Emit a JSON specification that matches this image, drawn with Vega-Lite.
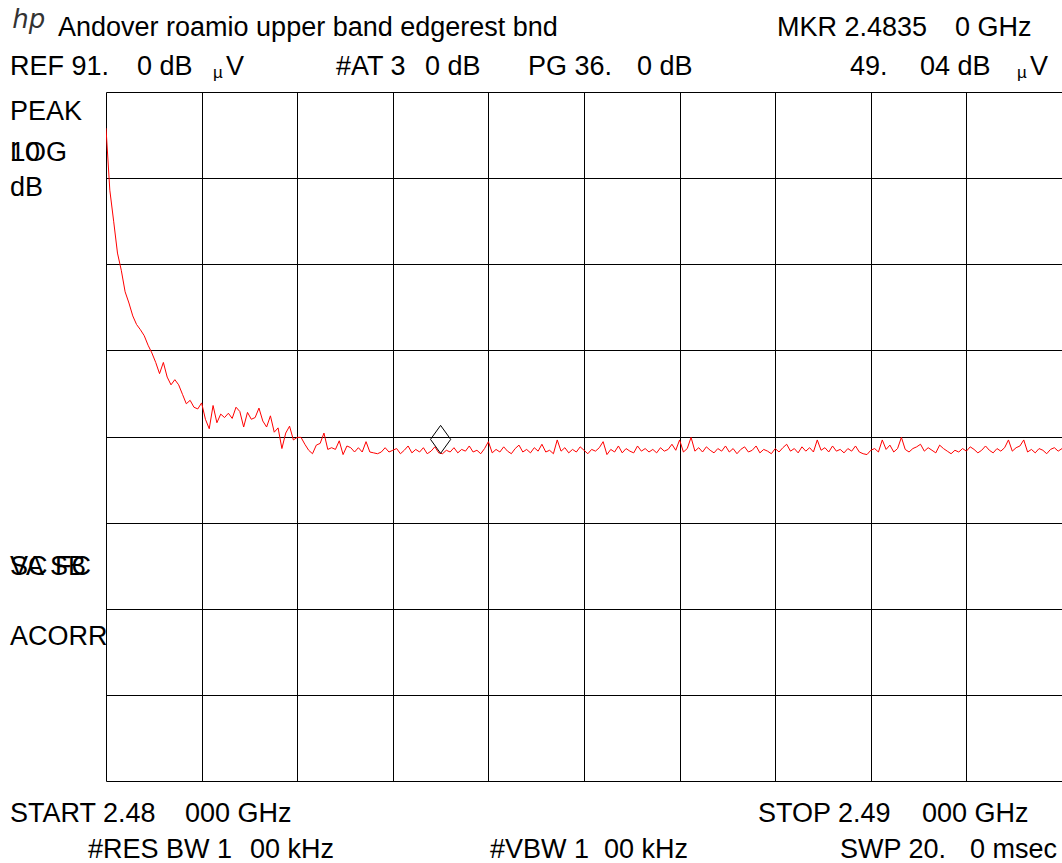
{
  "$schema": "https://vega.github.io/schema/vega-lite/v6.json",
  "autosize": {"type": "none"},
  "padding": {"left": 106, "top": 92, "right": 0, "bottom": 82},
  "width": 956,
  "height": 689,
  "background": "#ffffff",
  "config": {
    "view": {"stroke": "#000000", "strokeWidth": 1},
    "text": {"font": "Liberation Sans"}
  },
  "datasets": {
    "trace": [
      {"mhz":2480.00,"db":86.8},{"mhz":2480.04,"db":79.6},{"mhz":2480.08,"db":76.0},{"mhz":2480.12,"db":72.3},{"mhz":2480.16,"db":70.3},
      {"mhz":2480.20,"db":67.8},{"mhz":2480.24,"db":66.5},{"mhz":2480.28,"db":65.0},{"mhz":2480.32,"db":64.0},{"mhz":2480.36,"db":63.4},
      {"mhz":2480.40,"db":62.7},{"mhz":2480.44,"db":61.6},{"mhz":2480.48,"db":60.7},{"mhz":2480.52,"db":59.6},{"mhz":2480.56,"db":58.3},
      {"mhz":2480.60,"db":59.6},{"mhz":2480.64,"db":57.9},{"mhz":2480.68,"db":57.0},{"mhz":2480.72,"db":57.6},{"mhz":2480.76,"db":57.0},
      {"mhz":2480.80,"db":55.9},{"mhz":2480.84,"db":54.8},{"mhz":2480.88,"db":55.2},{"mhz":2480.92,"db":54.4},{"mhz":2480.96,"db":54.2},
      {"mhz":2481.00,"db":54.9},{"mhz":2481.04,"db":53.0},{"mhz":2481.08,"db":51.9},{"mhz":2481.12,"db":54.6},{"mhz":2481.16,"db":52.6},
      {"mhz":2481.20,"db":53.6},{"mhz":2481.24,"db":53.2},{"mhz":2481.28,"db":53.7},{"mhz":2481.32,"db":53.1},{"mhz":2481.36,"db":54.4},
      {"mhz":2481.40,"db":53.9},{"mhz":2481.44,"db":52.1},{"mhz":2481.48,"db":53.8},{"mhz":2481.52,"db":53.0},{"mhz":2481.56,"db":53.2},
      {"mhz":2481.60,"db":54.3},{"mhz":2481.64,"db":52.8},{"mhz":2481.68,"db":52.1},{"mhz":2481.72,"db":53.4},{"mhz":2481.76,"db":51.5},
      {"mhz":2481.80,"db":52.0},{"mhz":2481.84,"db":49.6},{"mhz":2481.88,"db":51.4},{"mhz":2481.92,"db":52.2},{"mhz":2481.96,"db":50.6},
      {"mhz":2482.00,"db":50.9},{"mhz":2482.04,"db":50.9},{"mhz":2482.08,"db":50.1},{"mhz":2482.12,"db":49.4},{"mhz":2482.16,"db":49.0},
      {"mhz":2482.20,"db":50.0},{"mhz":2482.24,"db":50.2},{"mhz":2482.28,"db":51.4},{"mhz":2482.32,"db":49.5},{"mhz":2482.36,"db":49.7},
      {"mhz":2482.40,"db":49.5},{"mhz":2482.44,"db":50.5},{"mhz":2482.48,"db":48.9},{"mhz":2482.52,"db":49.9},{"mhz":2482.56,"db":49.7},
      {"mhz":2482.60,"db":49.2},{"mhz":2482.64,"db":49.7},{"mhz":2482.68,"db":49.2},{"mhz":2482.72,"db":50.4},{"mhz":2482.76,"db":49.2},
      {"mhz":2482.80,"db":49.1},{"mhz":2482.84,"db":49.0},{"mhz":2482.88,"db":49.2},{"mhz":2482.92,"db":49.7},{"mhz":2482.96,"db":49.2},
      {"mhz":2483.00,"db":49.4},{"mhz":2483.04,"db":49.6},{"mhz":2483.08,"db":49.0},{"mhz":2483.12,"db":49.4},{"mhz":2483.16,"db":49.9},
      {"mhz":2483.20,"db":49.1},{"mhz":2483.24,"db":49.5},{"mhz":2483.28,"db":49.2},{"mhz":2483.32,"db":49.7},{"mhz":2483.36,"db":49.0},
      {"mhz":2483.40,"db":49.3},{"mhz":2483.44,"db":49.8},{"mhz":2483.48,"db":49.1},{"mhz":2483.52,"db":49.0},{"mhz":2483.56,"db":49.4},
      {"mhz":2483.60,"db":49.2},{"mhz":2483.64,"db":49.7},{"mhz":2483.68,"db":49.1},{"mhz":2483.72,"db":49.5},{"mhz":2483.76,"db":49.3},
      {"mhz":2483.80,"db":49.9},{"mhz":2483.84,"db":49.2},{"mhz":2483.88,"db":49.4},{"mhz":2483.92,"db":49.0},{"mhz":2483.96,"db":49.6},
      {"mhz":2484.00,"db":50.4},{"mhz":2484.04,"db":49.1},{"mhz":2484.08,"db":49.5},{"mhz":2484.12,"db":49.2},{"mhz":2484.16,"db":49.8},
      {"mhz":2484.20,"db":49.3},{"mhz":2484.24,"db":49.0},{"mhz":2484.28,"db":49.6},{"mhz":2484.32,"db":50.0},{"mhz":2484.36,"db":49.2},
      {"mhz":2484.40,"db":49.5},{"mhz":2484.44,"db":49.1},{"mhz":2484.48,"db":49.7},{"mhz":2484.52,"db":49.3},{"mhz":2484.56,"db":50.1},
      {"mhz":2484.60,"db":49.2},{"mhz":2484.64,"db":49.4},{"mhz":2484.68,"db":49.0},{"mhz":2484.72,"db":50.6},{"mhz":2484.76,"db":49.3},
      {"mhz":2484.80,"db":49.7},{"mhz":2484.84,"db":49.1},{"mhz":2484.88,"db":49.5},{"mhz":2484.92,"db":49.2},{"mhz":2484.96,"db":49.8},
      {"mhz":2485.00,"db":49.4},{"mhz":2485.04,"db":49.0},{"mhz":2485.08,"db":49.5},{"mhz":2485.12,"db":49.3},{"mhz":2485.16,"db":49.7},
      {"mhz":2485.20,"db":50.4},{"mhz":2485.24,"db":48.9},{"mhz":2485.28,"db":49.5},{"mhz":2485.32,"db":49.2},{"mhz":2485.36,"db":49.9},
      {"mhz":2485.40,"db":49.1},{"mhz":2485.44,"db":49.6},{"mhz":2485.48,"db":49.3},{"mhz":2485.52,"db":49.1},{"mhz":2485.56,"db":49.9},
      {"mhz":2485.60,"db":49.3},{"mhz":2485.64,"db":49.6},{"mhz":2485.68,"db":49.2},{"mhz":2485.72,"db":49.5},{"mhz":2485.76,"db":49.1},
      {"mhz":2485.80,"db":49.7},{"mhz":2485.84,"db":49.3},{"mhz":2485.88,"db":49.5},{"mhz":2485.92,"db":50.1},{"mhz":2485.96,"db":49.4},
      {"mhz":2486.00,"db":50.6},{"mhz":2486.04,"db":49.2},{"mhz":2486.08,"db":49.6},{"mhz":2486.12,"db":50.9},{"mhz":2486.16,"db":49.3},
      {"mhz":2486.20,"db":49.7},{"mhz":2486.24,"db":49.2},{"mhz":2486.28,"db":49.8},{"mhz":2486.32,"db":49.4},{"mhz":2486.36,"db":49.1},
      {"mhz":2486.40,"db":49.6},{"mhz":2486.44,"db":49.3},{"mhz":2486.48,"db":49.9},{"mhz":2486.52,"db":49.2},{"mhz":2486.56,"db":49.6},
      {"mhz":2486.60,"db":49.0},{"mhz":2486.64,"db":49.5},{"mhz":2486.68,"db":49.8},{"mhz":2486.72,"db":49.2},{"mhz":2486.76,"db":49.4},
      {"mhz":2486.80,"db":49.9},{"mhz":2486.84,"db":49.1},{"mhz":2486.88,"db":49.5},{"mhz":2486.92,"db":49.3},{"mhz":2486.96,"db":49.0},
      {"mhz":2487.00,"db":49.6},{"mhz":2487.04,"db":49.2},{"mhz":2487.08,"db":49.7},{"mhz":2487.12,"db":50.1},{"mhz":2487.16,"db":49.3},
      {"mhz":2487.20,"db":49.6},{"mhz":2487.24,"db":49.1},{"mhz":2487.28,"db":49.8},{"mhz":2487.32,"db":49.3},{"mhz":2487.36,"db":49.7},
      {"mhz":2487.40,"db":49.2},{"mhz":2487.44,"db":50.6},{"mhz":2487.48,"db":49.4},{"mhz":2487.52,"db":49.7},{"mhz":2487.56,"db":49.2},
      {"mhz":2487.60,"db":49.9},{"mhz":2487.64,"db":49.3},{"mhz":2487.68,"db":49.5},{"mhz":2487.72,"db":49.1},{"mhz":2487.76,"db":49.6},
      {"mhz":2487.80,"db":49.3},{"mhz":2487.84,"db":49.9},{"mhz":2487.88,"db":49.2},{"mhz":2487.92,"db":49.0},{"mhz":2487.96,"db":48.9},
      {"mhz":2488.00,"db":49.4},{"mhz":2488.04,"db":49.6},{"mhz":2488.08,"db":49.2},{"mhz":2488.12,"db":50.6},{"mhz":2488.16,"db":49.5},
      {"mhz":2488.20,"db":50.0},{"mhz":2488.24,"db":49.2},{"mhz":2488.28,"db":49.6},{"mhz":2488.32,"db":50.9},{"mhz":2488.36,"db":49.5},
      {"mhz":2488.40,"db":49.2},{"mhz":2488.44,"db":49.6},{"mhz":2488.48,"db":49.8},{"mhz":2488.52,"db":50.1},{"mhz":2488.56,"db":49.3},
      {"mhz":2488.60,"db":49.7},{"mhz":2488.64,"db":49.4},{"mhz":2488.68,"db":49.1},{"mhz":2488.72,"db":50.0},{"mhz":2488.76,"db":49.6},
      {"mhz":2488.80,"db":49.3},{"mhz":2488.84,"db":49.0},{"mhz":2488.88,"db":49.4},{"mhz":2488.92,"db":49.2},{"mhz":2488.96,"db":49.6},
      {"mhz":2489.00,"db":49.3},{"mhz":2489.04,"db":49.8},{"mhz":2489.08,"db":49.5},{"mhz":2489.12,"db":49.1},{"mhz":2489.16,"db":49.4},
      {"mhz":2489.20,"db":49.9},{"mhz":2489.24,"db":49.4},{"mhz":2489.28,"db":49.1},{"mhz":2489.32,"db":49.6},{"mhz":2489.36,"db":49.3},
      {"mhz":2489.40,"db":49.7},{"mhz":2489.44,"db":50.6},{"mhz":2489.48,"db":49.3},{"mhz":2489.52,"db":49.7},{"mhz":2489.56,"db":49.9},
      {"mhz":2489.60,"db":50.6},{"mhz":2489.64,"db":49.2},{"mhz":2489.68,"db":49.5},{"mhz":2489.72,"db":49.1},{"mhz":2489.76,"db":49.6},
      {"mhz":2489.80,"db":49.4},{"mhz":2489.84,"db":49.0},{"mhz":2489.88,"db":49.5},{"mhz":2489.92,"db":49.7},{"mhz":2489.96,"db":49.3},
      {"mhz":2490.00,"db":49.6}
    ],
    "marker": [{"mhz": 2483.5, "db": 49.04}],
    "labels": [
      {"label": "Andover roamio upper band edgerest bnd", "mhz": 2479.498, "db": 97.5},
      {"label": "MKR 2.4835", "mhz": 2487.019, "db": 97.5},
      {"label": "0 GHz", "mhz": 2488.881, "db": 97.5},
      {"label": "REF 91.", "mhz": 2478.996, "db": 92.97},
      {"label": "0 dB", "mhz": 2480.324, "db": 92.97},
      {"label": "V", "mhz": 2481.255, "db": 92.97},
      {"label": "#AT 3", "mhz": 2482.406, "db": 92.97},
      {"label": "0 dB", "mhz": 2483.337, "db": 92.97},
      {"label": "PG 36.", "mhz": 2484.414, "db": 92.97},
      {"label": "0 dB", "mhz": 2485.554, "db": 92.97},
      {"label": "49.", "mhz": 2487.782, "db": 92.97},
      {"label": "04 dB", "mhz": 2488.515, "db": 92.97},
      {"label": "V", "mhz": 2489.665, "db": 92.97},
      {"label": "PEAK", "mhz": 2478.996, "db": 87.75},
      {"label": "LOG", "mhz": 2478.996, "db": 82.99},
      {"label": "10", "mhz": 2478.996, "db": 82.99},
      {"label": "dB", "mhz": 2478.996, "db": 78.93},
      {"label": "VA SB", "mhz": 2478.996, "db": 34.92},
      {"label": "SC FC", "mhz": 2478.996, "db": 34.92},
      {"label": "ACORR", "mhz": 2478.996, "db": 26.79},
      {"label": "START 2.48", "mhz": 2478.996, "db": 6.24},
      {"label": "000 GHz", "mhz": 2480.826, "db": 6.24},
      {"label": "STOP 2.49", "mhz": 2486.82, "db": 6.24},
      {"label": "000 GHz", "mhz": 2488.536, "db": 6.24},
      {"label": "#RES BW 1", "mhz": 2479.812, "db": 2.06},
      {"label": "00 kHz", "mhz": 2481.506, "db": 2.06},
      {"label": "#VBW 1", "mhz": 2484.017, "db": 2.06},
      {"label": "00 kHz", "mhz": 2485.209, "db": 2.06},
      {"label": "SWP 20.", "mhz": 2487.678, "db": 2.06},
      {"label": "0 msec", "mhz": 2489.038, "db": 2.06}
    ],
    "micro": [
      {"label": "µ", "mhz": 2481.119, "db": 92.97},
      {"label": "µ", "mhz": 2489.529, "db": 92.97}
    ],
    "logo": [{"label": "hp", "mhz": 2479.02, "db": 98.43}]
  },
  "encoding": {
    "x": {
      "field": "mhz", "type": "quantitative",
      "scale": {"domain": [2480, 2490], "nice": false, "zero": false},
      "axis": {
        "values": [2481, 2482, 2483, 2484, 2485, 2486, 2487, 2488, 2489],
        "grid": true, "gridColor": "#000000", "gridOpacity": 1, "gridWidth": 1,
        "labels": false, "ticks": false, "domain": false, "title": null
      }
    },
    "y": {
      "field": "db", "type": "quantitative",
      "scale": {"domain": [11, 91], "nice": false, "zero": false},
      "axis": {
        "values": [21, 31, 41, 51, 61, 71, 81],
        "grid": true, "gridColor": "#000000", "gridOpacity": 1, "gridWidth": 1,
        "labels": false, "ticks": false, "domain": false, "title": null
      }
    }
  },
  "layer": [
    {
      "data": {"name": "trace"},
      "mark": {"type": "line", "color": "#ff0000", "strokeWidth": 1, "clip": true}
    },
    {
      "data": {"name": "marker"},
      "mark": {"type": "point", "shape": "M0,1L-0.72,0L0,-1L0.72,0Z", "size": 784, "filled": false, "stroke": "#000000", "strokeWidth": 1, "opacity": 1, "yOffset": -14}
    },
    {
      "data": {"name": "labels"},
      "mark": {"type": "text", "align": "left", "baseline": "alphabetic", "fontSize": 27, "color": "#000000"},
      "encoding": {"text": {"field": "label"}}
    },
    {
      "data": {"name": "micro"},
      "mark": {"type": "text", "align": "left", "baseline": "alphabetic", "fontSize": 17, "color": "#000000", "dy": 3},
      "encoding": {"text": {"field": "label"}}
    },
    {
      "data": {"name": "logo"},
      "mark": {"type": "text", "align": "left", "baseline": "alphabetic", "fontSize": 26, "fontStyle": "italic", "font": "DejaVu Sans", "fontWeight": 200, "color": "#333333"},
      "encoding": {"text": {"field": "label"}}
    }
  ]
}
